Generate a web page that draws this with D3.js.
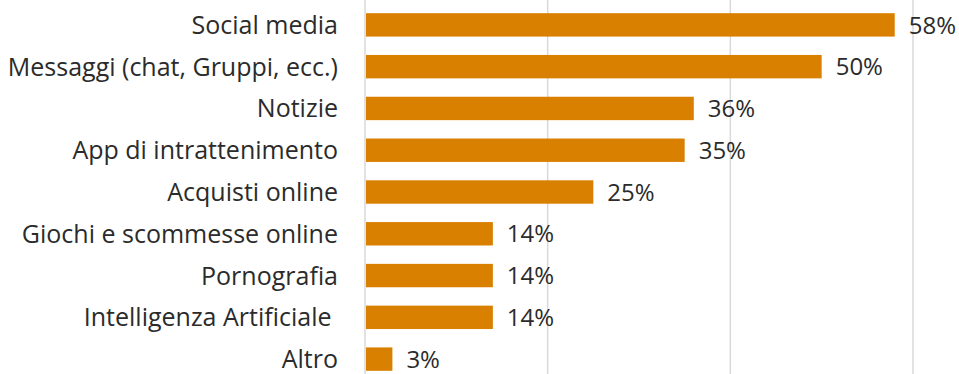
<!DOCTYPE html>
<html>
<head>
<meta charset="utf-8">
<script src="https://cdn.jsdelivr.net/npm/d3@7"></script>
<style>
  html, body { margin: 0; padding: 0; background: #fff; }
  svg { display: block; }
  text { font-family: "Open Sans", "Noto Sans", sans-serif; fill: #2b2b2b; }
</style>
</head>
<body>
<svg id="chart" width="959" height="374"></svg>
<script>
// Categories, top to bottom
const categories = [
  "Social media",
  "Messaggi (chat, Gruppi, ecc.)",
  "Notizie",
  "App di intrattenimento",
  "Acquisti online",
  "Giochi e scommesse online",
  "Pornografia",
  "Intelligenza Artificiale ",
  "Altro"
];
// Share of respondents, in percent
const values = [58, 50, 36, 35, 25, 14, 14, 14, 3];
// Vertical gridline positions (percent)
const gridTicks = [0, 20, 40, 60];

const svg = d3.select("#chart");
const plot = { left: 365, right: 913, top: 4, bottom: 380 };

const x = d3.scaleLinear().domain([0, 60]).range([plot.left, plot.right]);
const y = d3.scaleBand()
  .domain(categories)
  .range([plot.top, plot.bottom])
  .paddingInner(0.44)
  .paddingOuter(0.22);

// Gridlines
svg.append("g")
  .selectAll("line")
  .data(gridTicks)
  .join("line")
  .attr("x1", d => x(d)).attr("x2", d => x(d))
  .attr("y1", 0).attr("y2", 374)
  .attr("stroke", "#d9d9d9")
  .attr("stroke-width", 1.5);

const rows = categories.map((c, i) => ({ cat: c, val: values[i] }));

// Bars
svg.append("g")
  .selectAll("rect")
  .data(rows)
  .join("rect")
  .attr("x", x(0) + 1)
  .attr("y", d => y(d.cat))
  .attr("width", d => x(d.val) - x(0) - 1)
  .attr("height", y.bandwidth())
  .attr("fill", "#d98000");

// Value labels
svg.append("g")
  .selectAll("text")
  .data(rows)
  .join("text")
  .attr("x", d => x(d.val) + 14)
  .attr("y", d => y(d.cat) + y.bandwidth() / 2)
  .attr("dy", "0.36em")
  .style("font-size", "24px")
  .text(d => d.val + "%");

// Category labels
svg.append("g")
  .selectAll("text")
  .data(rows)
  .join("text")
  .attr("x", 338)
  .attr("y", d => y(d.cat) + y.bandwidth() / 2)
  .attr("dy", "0.36em")
  .attr("text-anchor", "end")
  .style("font-size", "25px")
  .style("white-space", "pre")
  .text(d => d.cat);
</script>
</body>
</html>
